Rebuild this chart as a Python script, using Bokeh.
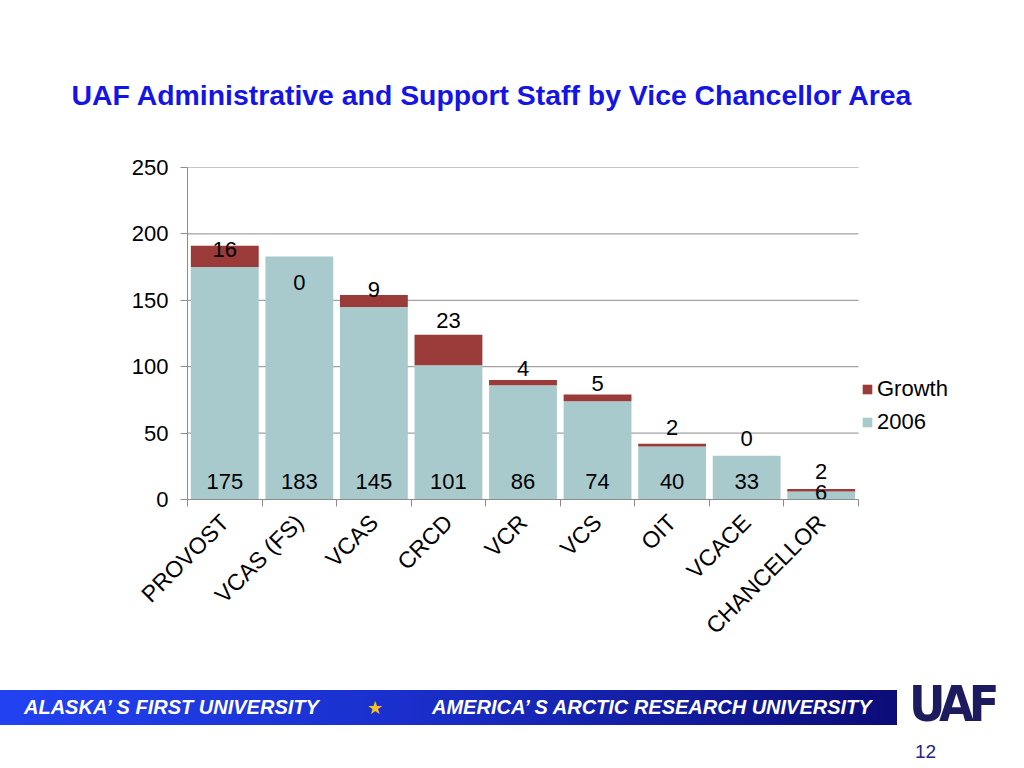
from math import pi
from bokeh.plotting import figure
from bokeh.layouts import column
from bokeh.models import (ColumnDataSource, Range1d, FixedTicker, Legend,
                          LegendItem, Div)
from bokeh.core.properties import value
from bokeh.embed import file_html
from bokeh.resources import INLINE

# ---------------- data ----------------
categories = ["PROVOST", "VCAS (FS)", "VCAS", "CRCD", "VCR", "VCS", "OIT", "VCACE", "CHANCELLOR"]
staff_2006 = [175, 183, 145, 101, 86, 74, 40, 33, 6]
growth = [16, 0, 9, 23, 4, 5, 2, 0, 2]
y_ticks = [0, 50, 100, 150, 200, 250]

# ---------------- styling ----------------
FONT = "Liberation Sans"
TEAL = "#A8CACC"
RED = "#9A3A39"
GRID = "#8C8C8C"
FS = "22px"

n = len(categories)
xs = [i + 0.5 for i in range(n)]
tops = [b + g for b, g in zip(staff_2006, growth)]
base_offsets = [-18 if b > 20 else -7 for b in staff_2006]
growth_offsets = [4, 26, -5, -14, -11, -11, -16, -17, -17]

src = ColumnDataSource(dict(
    x=xs, cat=categories, s2006=staff_2006, growth=growth, top=tops,
    base_txt=[str(v) for v in staff_2006], growth_txt=[str(v) for v in growth],
    zero=[0] * n, base_off=base_offsets, growth_off=growth_offsets,
))

# plot area: categories occupy 671 px; the frame extends further right to hold the legend
LEFT, CAT_W, FRAME_W, RIGHT = 187, 671, 827, 10
x_end = n * FRAME_W / CAT_W

p = figure(width=1024, height=680, output_backend="svg", toolbar_location=None,
           x_range=Range1d(0, x_end), y_range=Range1d(0, 250),
           min_border_left=LEFT, min_border_right=RIGHT, min_border_top=167,
           min_border_bottom=181)
p.outline_line_color = None
p.background_fill_color = "white"

p.title.text = "UAF Administrative and Support Staff by Vice Chancellor Area"
p.title.text_font = FONT
p.title.text_font_size = "28.4px"
p.title.text_font_style = "bold"
p.title.text_color = "#1414E6"
p.title.align = "left"
p.title.offset = -116
p.title.standoff = 113

# horizontal gridlines over the category area only
p.xgrid.grid_line_color = None
p.ygrid.grid_line_color = None
p.segment(x0=[0] * len(y_ticks), x1=[n] * len(y_ticks), y0=y_ticks, y1=y_ticks,
          line_color=GRID, line_width=1)

renderers = p.vbar_stack(["s2006", "growth"], x="x", width=0.91, source=src,
                         color=[TEAL, RED], line_color=None)

# data labels
p.text(x="x", y="zero", text="base_txt", source=src, y_offset="base_off",
       text_align="center", text_baseline="middle", text_font=value(FONT),
       text_font_size=FS, text_color="black")
p.text(x="x", y="top", text="growth_txt", source=src, y_offset="growth_off",
       text_align="center", text_baseline="middle", text_font=value(FONT),
       text_font_size=FS, text_color="black")

# axes
p.yaxis.ticker = FixedTicker(ticks=y_ticks)
p.yaxis.axis_line_color = GRID
p.yaxis.major_tick_line_color = GRID
p.yaxis.major_tick_out = 7
p.yaxis.major_tick_in = 0
p.yaxis.minor_tick_line_color = None
p.yaxis.major_label_text_font = FONT
p.yaxis.major_label_text_font_size = FS
p.yaxis.major_label_text_color = "black"
p.yaxis.major_label_standoff = 12

p.xaxis.bounds = (0, n)
p.xaxis.ticker = FixedTicker(ticks=xs, minor_ticks=list(range(n + 1)))
p.xaxis.major_label_overrides = {x: c for x, c in zip(xs, categories)}
p.xaxis.axis_line_color = GRID
p.xaxis.major_tick_line_color = None
p.xaxis.minor_tick_line_color = GRID
p.xaxis.minor_tick_out = 7
p.xaxis.minor_tick_in = 0
p.xaxis.major_label_orientation = pi / 4
p.xaxis.major_label_text_font = FONT
p.xaxis.major_label_text_font_size = "23px"
p.xaxis.major_label_text_color = "black"
p.xaxis.major_label_standoff = 12

# legend (inside the extended frame, to the right of the categories)
legend = Legend(items=[LegendItem(label="Growth", renderers=[renderers[1]]),
                       LegendItem(label="2006", renderers=[renderers[0]])],
                location=(674, 61), orientation="vertical",
                glyph_width=12, glyph_height=12, label_standoff=4,
                label_height=33, spacing=0, padding=0, margin=0,
                border_line_color=None, background_fill_alpha=0,
                label_text_font=FONT, label_text_font_size=FS,
                label_text_color="black")
p.add_layout(legend, "center")

# footer (slide band, logo, page number)
footer_html = """
<div style="position:relative;width:1024px;height:88px;font-family:'Liberation Sans',Arial,sans-serif;">
  <div style="position:absolute;left:-6px;top:5px;width:898px;height:35px;
       background:linear-gradient(to right,#2242F2,#1A2FCC 45%,#0C0C78);"></div>
  <div style="position:absolute;left:19px;top:5px;height:35px;line-height:35px;
       color:white;font-weight:bold;font-style:italic;font-size:20px;white-space:nowrap;">ALASKA’ S FIRST UNIVERSITY</div>
  <div style="position:absolute;left:362px;top:5px;height:35px;line-height:35px;
       color:#F5C518;font-size:18px;font-family:'DejaVu Sans';">★</div>
  <div style="position:absolute;left:427px;top:5px;height:35px;line-height:35px;
       color:white;font-weight:bold;font-style:italic;font-size:20px;white-space:nowrap;">AMERICA’ S ARCTIC RESEARCH UNIVERSITY</div>
  <div style="position:absolute;left:904px;top:-3px;height:44px;line-height:44px;
       color:#1B1B5E;font-weight:bold;font-size:50px;font-family:'DejaVu Sans Condensed';letter-spacing:-5px;">UAF</div>
  <div style="position:absolute;left:910px;top:53px;color:#22228A;font-size:19px;">12</div>
</div>
"""
footer = Div(text=footer_html, width=1024, height=88)

layout = column(p, footer, spacing=0)
open("out.html", "w").write(file_html(layout, INLINE))
